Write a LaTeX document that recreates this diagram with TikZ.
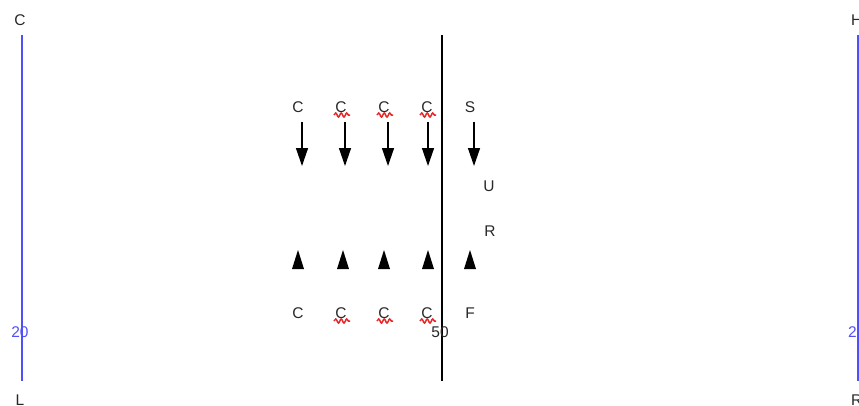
\documentclass[tikz,border=0pt]{standalone}
\usepackage{fontspec}
\setmainfont{Liberation Sans}
\usetikzlibrary{arrows.meta,decorations.pathmorphing}
\definecolor{yardblue}{RGB}{80,80,250}
\definecolor{ink}{RGB}{40,40,40}
\definecolor{wavy}{RGB}{230,40,40}
\tikzset{
  lbl/.style={font=\fontsize{15.5}{15.5}\selectfont, text=ink, inner sep=0pt, anchor=center},
  yardlbl/.style={font=\fontsize{15.5}{15.5}\selectfont, text=yardblue, inner sep=0pt, anchor=center},
  sideline/.style={draw=yardblue, line width=1.8pt},
  midline/.style={draw=black, line width=1.4pt},
  runarrow/.style={draw=black, line width=1.4pt, -{Triangle[length=18pt,width=12pt]}},
  marker/.style={fill=black},
  squiggle/.style={draw=wavy, line width=1.5pt, decorate, decoration={snake, amplitude=2pt, segment length=5.5pt}}
}
\begin{document}
\begin{tikzpicture}[x=1pt,y=-1pt]
\useasboundingbox (0,0) rectangle (859,405);

% side lines
\coordinate (lt) at (22,35);  \coordinate (lb) at (22,381);
\coordinate (rt) at (858,35); \coordinate (rb) at (858,381);
\draw[sideline] (lt) -- (lb);
\draw[sideline] (rt) -- (rb);
\node[lbl] (ltop) at (20,20) {C};
\node[lbl] (lbot) at (20,400) {L};
\node[yardlbl] (lyd) at (20,332) {20};
\node[lbl, anchor=west] (rtop) at (851,20) {H};
\node[lbl, anchor=west] (rbot) at (851,400) {R};
\node[yardlbl, anchor=west] (ryd) at (848,332) {20};

% midfield line
\coordinate (mt) at (442,35); \coordinate (mb) at (442,381);
\draw[midline] (mt) -- (mb);
\node[lbl] (fifty) at (440,332) {50};

% upper row
\node[lbl] (a1) at (298,107) {C};
\node[lbl] (a2) at (341,107) {C};
\node[lbl] (a3) at (384,107) {C};
\node[lbl] (a4) at (427,107) {C};
\node[lbl] (a5) at (470,107) {S};
\foreach \x/\n in {302/1,345/2,388/3,428/4,474/5}{
  \coordinate (s\n) at (\x,122);
  \coordinate (e\n) at (\x,166);
  \draw[runarrow] (s\n) -- (e\n);
}

\node[lbl] (u) at (489,186) {U};
\node[lbl] (r) at (490,231) {R};

% lower row markers
\foreach \x/\n in {298/1,343/2,384/3,428/4,470/5}{
  \coordinate (t\n) at (\x,250);
  \fill[marker] (t\n) -- ++(6,19) -- ++(-12,0) -- cycle;
}
\node[lbl] (b1) at (298,313) {C};
\node[lbl] (b2) at (341,313) {C};
\node[lbl] (b3) at (384,313) {C};
\node[lbl] (b4) at (427,313) {C};
\node[lbl] (b5) at (470,313) {F};

% underlines
\foreach \n in {a2,a3,a4,b2,b3,b4}{
  \draw[squiggle] ([xshift=-7pt,yshift=-8pt]\n.center) -- ([xshift=9pt,yshift=-8pt]\n.center);
}
\end{tikzpicture}
\end{document}
